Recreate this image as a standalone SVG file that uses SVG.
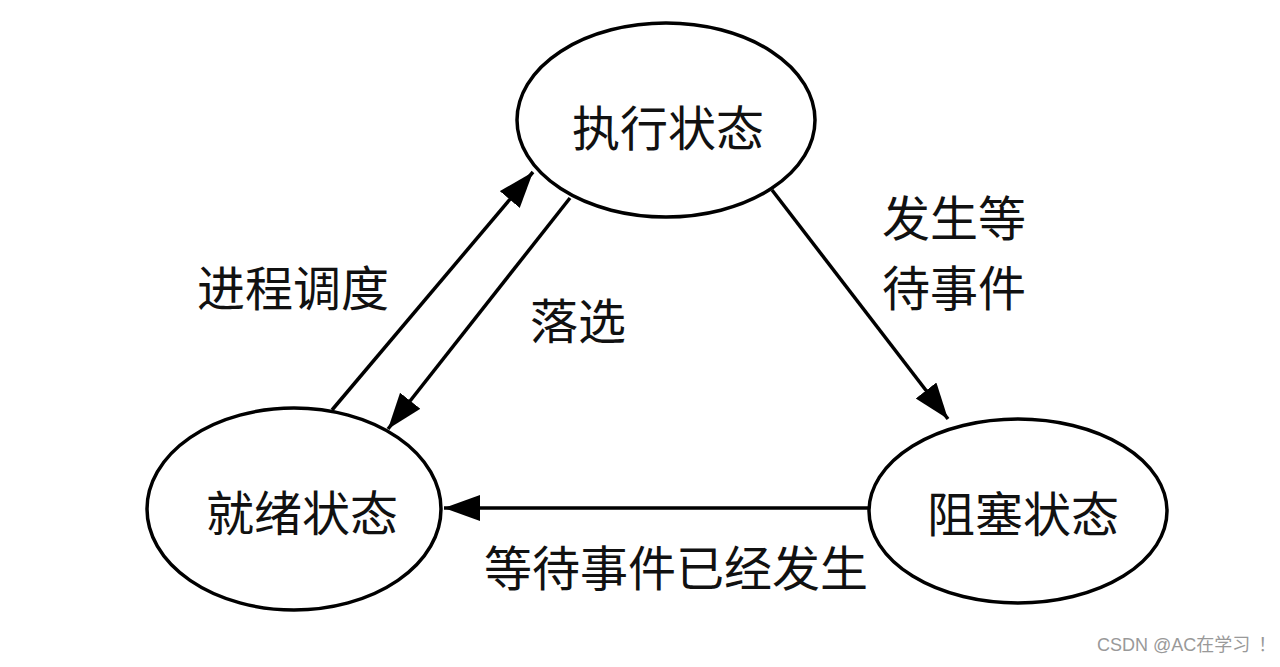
<svg xmlns="http://www.w3.org/2000/svg" width="1280" height="667" viewBox="0 0 1280 667">
<style>
.node{fill:#fff;stroke:#000;stroke-width:3.5}
.t{font-family:"Noto Sans CJK SC","Liberation Sans",sans-serif;font-size:48px;fill:#111;text-anchor:middle;dominant-baseline:central}
.edge{stroke:#000;stroke-width:3.5;fill:none;marker-end:url(#ah)}
.wm{font-family:"Liberation Sans","Noto Sans CJK SC",sans-serif;font-size:18px;fill:#999}
.fw{font-family:"Noto Sans CJK SC",sans-serif}
</style>
<defs>
<marker id="ah" markerUnits="userSpaceOnUse" markerWidth="40" markerHeight="30" refX="36" refY="13" orient="auto">
<path d="M0,0 L36,13 L0,26 Z" fill="#000"/>
</marker>
</defs>
<rect width="1280" height="667" fill="#fff"/>
<g id="edges">
<line class="edge" x1="332" y1="410" x2="533" y2="172"/>
<line class="edge" x1="570" y1="198" x2="388" y2="429"/>
<line class="edge" x1="772" y1="190" x2="948" y2="419"/>
<line class="edge" x1="869" y1="508" x2="444" y2="508"/>
</g>
<g id="run"><ellipse class="node" cx="666" cy="120" rx="149" ry="97"/><text class="t" x="668" y="125">执行状态</text></g>
<g id="ready"><ellipse class="node" cx="294" cy="509" rx="147" ry="101"/><text class="t" x="302" y="510">就绪状态</text></g>
<g id="blocked"><ellipse class="node" cx="1018" cy="511" rx="149" ry="92"/><text class="t" x="1023" y="511">阻塞状态</text></g>
<g id="labels">
<text class="t" x="293" y="285">进程调度</text>
<text class="t" x="578" y="318">落选</text>
<text class="t" x="954" y="215">发生等</text>
<text class="t" x="954" y="285">待事件</text>
<text class="t" x="676" y="565">等待事件已经发生</text>
</g>
<text class="wm" x="1097" y="651">CSDN @AC在学习<tspan class="fw" dx="8">！</tspan></text>
</svg>
